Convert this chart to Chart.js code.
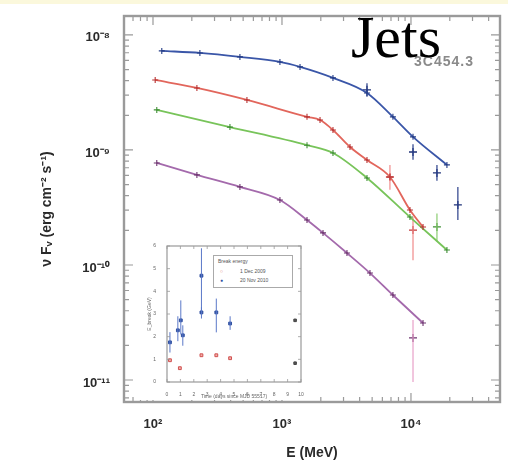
<!DOCTYPE html>
<html>
<head>
<meta charset="utf-8">
<script src="https://cdn.jsdelivr.net/npm/chart.js@4.4.0/dist/chart.umd.min.js"></script>
<style>
html, body { margin: 0; padding: 0; background: #fff; }
#wrap { position: relative; width: 508px; height: 462px; overflow: hidden; background: #fff; }
#band { position: absolute; left: 0; top: 0; width: 508px; height: 4px; background: #fbf8dc; }
#main { position: absolute; left: 0; top: 0; }
#insetBox { position: absolute; left: 138px; top: 240px; width: 168px; height: 160px; background: #fff; }
#inset { position: absolute; left: 0; top: 0; }
#legend { position: absolute; left: 75px; top: 15px; width: 78px; height: 31px; border: 1px solid #aaa;
          font: 5px "Liberation Sans", Arial, sans-serif; color: #555; background: #fff; }
#legend div { position: absolute; white-space: nowrap; }
#jets { position: absolute; left: 351px; top: 7px; font-family: "Liberation Serif", "Times New Roman", serif;
        font-size: 60px; line-height: 1; color: #000; }
#src { position: absolute; left: 414px; top: 53px; font: bold 14px "Liberation Sans", Arial, sans-serif;
       color: #8a8a8a; letter-spacing: 1px; filter: blur(0.5px); }
</style>
</head>
<body>
<div id="wrap">
  <div id="band"></div>
  <canvas id="main" width="508" height="462"></canvas>
  <div id="insetBox">
    <canvas id="inset" width="168" height="160"></canvas>
    <div id="legend">
      <div style="left:4px;top:2px;">Break energy</div>
      <div style="left:6px;top:12px;color:#d05050;">&#9675;</div>
      <div style="left:26px;top:12px;">1 Dec 2009</div>
      <div style="left:6px;top:21px;color:#3050a0;">&#9679;</div>
      <div style="left:26px;top:21px;">20 Nov 2010</div>
    </div>
  </div>
  <div id="src">3C454.3</div>
  <div id="jets">Jets</div>
</div>
<script>
// axis ranges and tick labels
const xRange = [59.6, 49000];
const yRange = [6.44e-12, 1.46e-8];
const xDecades = [100, 1000, 10000];
const xTickLabels = ['10\u00b2', '10\u00b3', '10\u2074'];
const yDecades = [1e-8, 1e-9, 1e-10, 1e-11];
const yTickLabels = ['10\u207b\u2078', '10\u207b\u2079', '10\u207b\u00b9\u2070', '10\u207b\u00b9\u00b9'];

// SEDs: E (MeV) and nuFnu (erg cm^-2 s^-1)
const blueE = [117, 231, 472, 964, 1380, 2485, 4560, 7245, 10370, 19000];
const blueF = [7.26e-9, 6.97e-9, 6.44e-9, 5.82e-9, 5.27e-9, 4.23e-9, 3.13e-9, 1.94e-9, 1.30e-9, 7.41e-10];
const redE = [104, 219, 535, 1563, 1972, 2485, 3367, 4560, 6870, 9820, 12400];
const redF = [4.06e-9, 3.46e-9, 2.72e-9, 1.94e-9, 1.82e-9, 1.49e-9, 1.06e-9, 8.18e-10, 5.82e-10, 3.01e-10, 2.14e-10];
const greenE = [107, 395, 1563, 2485, 4560, 9820, 19000];
const greenF = [2.23e-9, 1.58e-9, 1.10e-9, 9.42e-10, 5.71e-10, 2.61e-10, 1.35e-10];
const purpleE = [107, 219, 472, 964, 1563, 2080, 3190, 4810, 7245, 12400];
const purpleF = [7.71e-10, 6.07e-10, 4.77e-10, 3.67e-10, 2.46e-10, 1.90e-10, 1.27e-10, 8.51e-11, 5.48e-11, 3.13e-11];

// high energy points with error bars
const blueXE = [4560, 10370, 15900, 23100];
const blueXF = [3.33e-9, 9.6e-10, 6.31e-10, 3.33e-10];
const blueXLo = [2.9e-9, 8.2e-10, 5.4e-10, 2.46e-10];
const blueXHi = [3.8e-9, 1.12e-9, 7.4e-10, 4.77e-10];
const redXE = [6870, 10370];
const redXF = [5.82e-10, 2.01e-10];
const redXLo = [4.5e-10, 1.10e-10];
const redXHi = [7.4e-10, 2.6e-10];
const greenXE = [15900];
const greenXF = [2.14e-10];
const greenXLo = [1.6e-10];
const greenXHi = [2.8e-10];
const purpleXE = [10370];
const purpleXF = [2.32e-11];
const purpleXLo = [9.6e-12];
const purpleXHi = [3.32e-11];

// inset
const insetXTicks = [0, 1, 2, 3, 4, 5, 6, 7, 8, 9, 10];
const insetYTicks = [0, 1, 2, 3, 4, 5, 6];
const insetBlueX = [0.22, 0.81, 1.03, 1.18, 2.57, 2.57, 3.68, 4.71];
const insetBlueY = [1.75, 2.28, 2.72, 2.06, 4.69, 3.07, 3.07, 2.58];
const insetBlueLo = [1.3, 1.8, 2.1, 1.6, 3.1, 2.8, 2.19, 2.3];
const insetBlueHi = [2.2, 2.9, 3.6, 2.5, 5.9, 3.3, 3.68, 2.9];
const insetRedX = [0.22, 0.96, 2.57, 3.68, 4.71];
const insetRedY = [0.96, 0.61, 1.18, 1.18, 1.05];
const insetDarkX = [9.56, 9.56];
const insetDarkY = [2.72, 0.83];

// frame box and inward ticks, IDL style
const frameTicks = {
  id: 'frameTicks',
  afterDatasetsDraw(chart, args, opts) {
    const { ctx, chartArea: a, scales } = chart;
    ctx.save();
    ctx.strokeStyle = opts.color;
    ctx.lineWidth = opts.tickWidth;
    ['x', 'y'].forEach(id => {
      const s = scales[id];
      s.ticks.forEach(t => {
        let major = true;
        if (s.type === 'logarithmic') {
          const l = Math.log10(t.value);
          major = Math.abs(l - Math.round(l)) < 1e-6;
        }
        const len = major ? opts.major : opts.minor;
        const p = s.getPixelForValue(t.value);
        ctx.beginPath();
        if (id === 'x') {
          ctx.moveTo(p, a.bottom); ctx.lineTo(p, a.bottom - len);
          ctx.moveTo(p, a.top); ctx.lineTo(p, a.top + len);
        } else {
          ctx.moveTo(a.left, p); ctx.lineTo(a.left + len, p);
          ctx.moveTo(a.right, p); ctx.lineTo(a.right - len, p);
        }
        ctx.stroke();
      });
    });
    ctx.lineWidth = opts.frameWidth;
    ctx.strokeRect(a.left, a.top, a.right - a.left, a.bottom - a.top);
    ctx.restore();
  }
};

function logTicks(min, max) {
  const out = [];
  for (let e = Math.floor(Math.log10(min)); e <= Math.ceil(Math.log10(max)); e++) {
    for (let m = 1; m < 10; m++) {
      const v = m * Math.pow(10, e);
      if (v >= min && v <= max) out.push({ value: v });
    }
  }
  return out;
}

function decadeLabel(value, decades, labels) {
  const i = decades.findIndex(d => Math.abs(Math.log10(value) - Math.log10(d)) < 1e-6);
  return i >= 0 ? labels[i] : '';
}

function line(E, F, color, ptColor) {
  return {
    data: E.map((e, i) => ({ x: e, y: F[i] })),
    showLine: true,
    borderColor: color,
    borderWidth: 1.8,
    cubicInterpolationMode: 'monotone',
    pointStyle: 'cross',
    pointRadius: 3,
    pointBorderColor: ptColor,
    pointBorderWidth: 1.1
  };
}

function points(E, F, color, r) {
  return {
    data: E.map((e, i) => ({ x: e, y: F[i] })),
    showLine: false,
    pointStyle: 'cross',
    pointRadius: r,
    pointBorderColor: color,
    pointBorderWidth: 1.3
  };
}

function errBars(E, lo, hi, color, w) {
  return E.map((e, i) => ({
    data: [{ x: e, y: lo[i] }, { x: e, y: hi[i] }],
    showLine: true,
    borderColor: color,
    borderWidth: w,
    pointRadius: 0
  }));
}

const tickFont = { family: '"Liberation Sans", Arial, sans-serif', weight: 'bold', size: 13 };

new Chart(document.getElementById('main'), {
  type: 'scatter',
  data: {
    datasets: [
      line(blueE, blueF, '#3a56a8', '#243c86'),
      line(redE, redF, '#e2665c', '#b83232'),
      line(greenE, greenF, '#78c45a', '#3f8f35'),
      line(purpleE, purpleF, '#a46aac', '#6e3570'),
      ...errBars(blueXE, blueXLo, blueXHi, '#2a3f8a', 1.2),
      ...errBars(redXE, redXLo, redXHi, '#f08a8a', 1.2),
      ...errBars(greenXE, greenXLo, greenXHi, '#8acc70', 1.2),
      ...errBars(purpleXE, purpleXLo, purpleXHi, '#e8a0c8', 1.2),
      points(blueXE, blueXF, '#1f3278', 4),
      points(redXE, redXF, '#c23a3a', 4),
      points(greenXE, greenXF, '#3f8f35', 4),
      points(purpleXE, purpleXF, '#6e3570', 4)
    ]
  },
  options: {
    responsive: false,
    animation: false,
    layout: { padding: { top: 16, right: 8, left: 0, bottom: 0 } },
    plugins: {
      legend: { display: false },
      tooltip: { enabled: false },
      frameTicks: { color: '#9a9a9a', tickWidth: 1.2, major: 9, minor: 5, frameWidth: 2.4 }
    },
    scales: {
      x: {
        type: 'logarithmic',
        min: xRange[0],
        max: xRange[1],
        afterFit: s => { s.height = 60; },
        afterBuildTicks: s => { s.ticks = logTicks(s.min, s.max); },
        grid: { display: false },
        border: { display: false },
        ticks: {
          autoSkip: false, maxRotation: 0, padding: 7,
          font: tickFont, color: '#2a2a2a',
          callback: v => decadeLabel(v, xDecades, xTickLabels)
        },
        title: {
          display: true, text: 'E (MeV)', color: '#2a2a2a',
          font: { family: '"Liberation Sans", Arial, sans-serif', weight: 'bold', size: 14 },
          padding: { top: 12, bottom: 0 }
        }
      },
      y: {
        type: 'logarithmic',
        min: yRange[0],
        max: yRange[1],
        afterFit: s => { s.width = 124; },
        afterBuildTicks: s => { s.ticks = logTicks(s.min, s.max); },
        grid: { display: false },
        border: { display: false },
        ticks: {
          autoSkip: false, padding: 6, labelOffset: 3,
          font: tickFont, color: '#2a2a2a',
          callback: v => decadeLabel(v, yDecades, yTickLabels)
        },
        title: {
          display: true, text: '\u03bd F\u1d65 (erg cm\u207b\u00b2 s\u207b\u00b9)', color: '#2a2a2a',
          font: { family: '"Liberation Sans", Arial, sans-serif', weight: 'bold', size: 14 },
          padding: { top: 39, bottom: 0 }
        }
      }
    }
  },
  plugins: [frameTicks]
});

// inset: break energy
const smallFont = { family: '"Liberation Sans", Arial, sans-serif', size: 5 };

new Chart(document.getElementById('inset'), {
  type: 'scatter',
  data: {
    datasets: [
      ...errBars(insetBlueX, insetBlueLo, insetBlueHi, '#5a78c8', 1),
      {
        data: insetBlueX.map((x, i) => ({ x: x, y: insetBlueY[i] })),
        pointStyle: 'rect', pointRadius: 2, pointBackgroundColor: '#3050a0',
        pointBorderColor: '#3050a0', showLine: false
      },
      {
        data: insetRedX.map((x, i) => ({ x: x, y: insetRedY[i] })),
        pointStyle: 'rect', pointRadius: 2, pointBackgroundColor: '#f2b0a8',
        pointBorderColor: '#d05050', showLine: false
      },
      {
        data: insetDarkX.map((x, i) => ({ x: x, y: insetDarkY[i] })),
        pointStyle: 'rect', pointRadius: 1.8, pointBackgroundColor: '#555',
        pointBorderColor: '#444', showLine: false
      }
    ]
  },
  options: {
    responsive: false,
    animation: false,
    layout: { padding: { top: 5, right: 5, left: 0, bottom: 0 } },
    plugins: {
      legend: { display: false },
      tooltip: { enabled: false },
      frameTicks: { color: '#999', tickWidth: 0.8, major: 3, minor: 3, frameWidth: 1.2 }
    },
    scales: {
      x: {
        type: 'linear', min: insetXTicks[0], max: insetXTicks[insetXTicks.length - 1],
        afterFit: s => { s.height = 18; },
        afterBuildTicks: s => { s.ticks = insetXTicks.map(v => ({ value: v })); },
        grid: { display: false }, border: { display: false },
        ticks: { font: smallFont, color: '#666', padding: 2, maxRotation: 0, autoSkip: false },
        title: { display: true, text: 'Time (days since MJD 55517)', font: smallFont, color: '#666', padding: 0 }
      },
      y: {
        type: 'linear', min: insetYTicks[0], max: insetYTicks[insetYTicks.length - 1],
        afterFit: s => { s.width = 29; },
        afterBuildTicks: s => { s.ticks = insetYTicks.map(v => ({ value: v })); },
        grid: { display: false }, border: { display: false },
        ticks: { font: smallFont, color: '#666', padding: 3, autoSkip: false },
        title: { display: true, text: 'E_break (GeV)', font: smallFont, color: '#666', padding: { top: 9, bottom: 0 } }
      }
    }
  },
  plugins: [frameTicks]
});
</script>
</body>
</html>
